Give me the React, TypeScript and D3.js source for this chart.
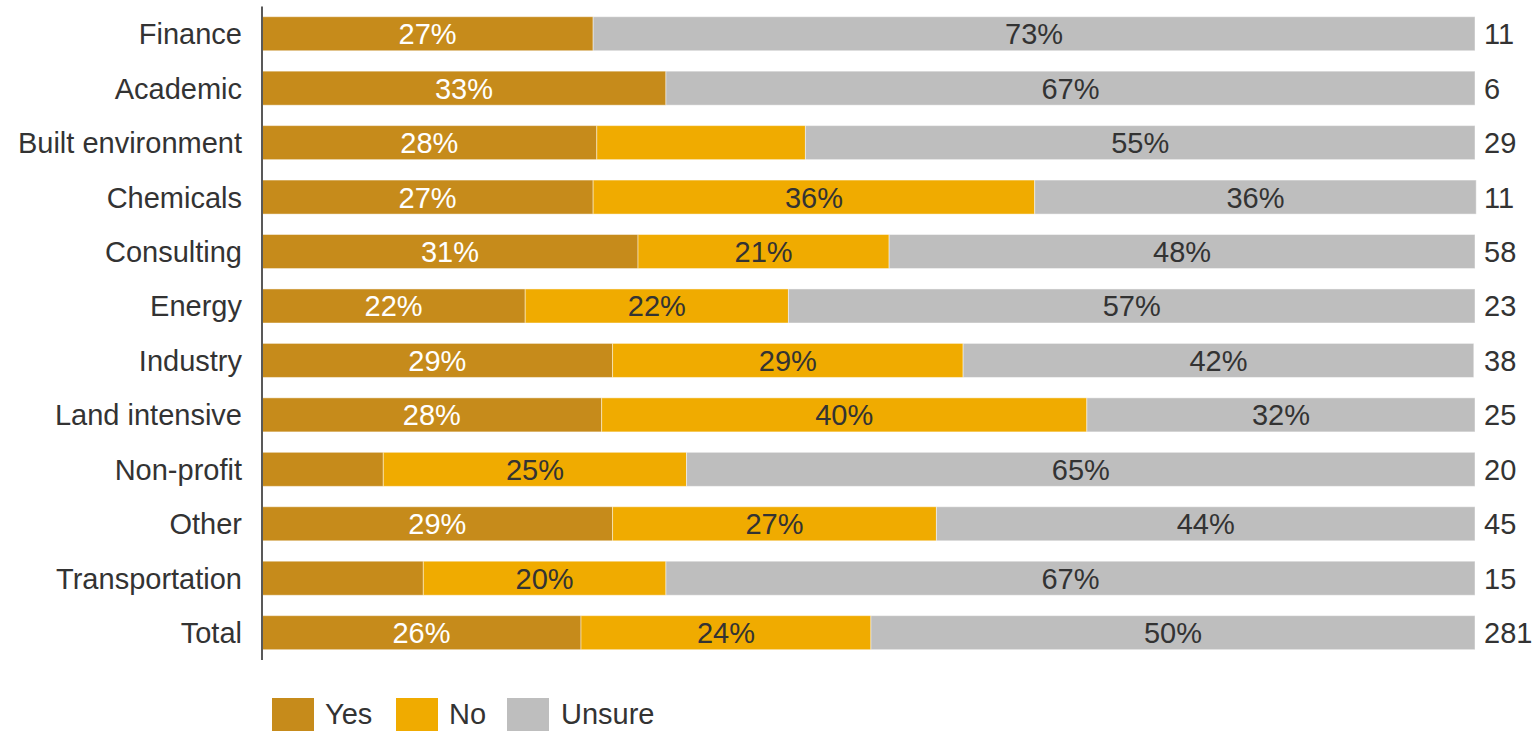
import React from "react";
import * as d3 from "d3";

const categories = ["Finance", "Academic", "Built environment", "Chemicals", "Consulting", "Energy", "Industry", "Land intensive", "Non-profit", "Other", "Transportation", "Total"];
const yesValues = [27.3, 33.3, 27.6, 27.3, 31.0, 21.7, 28.9, 28.0, 10.0, 28.9, 13.3, 26.3];
const noValues = [0, 0, 17.2, 36.4, 20.7, 21.7, 28.9, 40.0, 25.0, 26.7, 20.0, 23.9];
const unsureValues = [72.7, 66.7, 55.2, 36.4, 48.3, 56.6, 42.1, 32.0, 65.0, 44.4, 66.7, 49.8];
const counts = [11, 6, 29, 11, 58, 23, 38, 25, 20, 45, 15, 281];
const seriesNames = ["Yes", "No", "Unsure"];
const seriesColors = ["#C68B1B", "#F0AB00", "#BEBEBE"];
const labelColors = ["#FFFFFF", "#333333", "#333333"];

const W = 1532, H = 731;
const FONT = "'Liberation Sans', Arial, sans-serif";
const FS = 29;

export default function App() {
  const x = d3.scaleLinear().domain([0, 100]).range([262, 1475]);
  const y = d3.scaleBand<string>().domain(categories).range([6.5, 659.9]).paddingInner(0.375).paddingOuter(0.1875);
  const series = [yesValues, noValues, unsureValues];
  const rows = categories.map((c, i) => {
    let acc = 0;
    return series.map((s, k) => {
      const v = s[i];
      const seg = { k, x0: acc, x1: acc + v, v };
      acc += v;
      return seg;
    });
  });
  const bw = y.bandwidth();
  const legendItems = [
    { sx: 272, tx: 325 },
    { sx: 396, tx: 449 },
    { sx: 507, tx: 561 },
  ];
  return (
    <svg width={W} height={H} style={{ position: "absolute", left: 0, top: 0 }} fontFamily={FONT}>
      <rect width={W} height={H} fill="#fff" />
      {categories.map((c, i) => {
        const yy = y(c)!;
        return (
          <g key={c}>
            {rows[i].map((seg) =>
              seg.v > 0 ? (
                <rect key={seg.k} x={x(seg.x0)} y={yy} width={x(seg.x1) - x(seg.x0)} height={bw}
                  fill={seriesColors[seg.k]} stroke="rgba(255,255,255,0.45)" strokeWidth={1} />
              ) : null
            )}
            {rows[i].map((seg) =>
              seg.v >= 18 ? (
                <text key={"l" + seg.k} x={(x(seg.x0) + x(seg.x1)) / 2} y={yy + bw / 2} dy="0.36em"
                  textAnchor="middle" fontSize={FS} fill={labelColors[seg.k]}>
                  {Math.round(seg.v) + "%"}
                </text>
              ) : null
            )}
            <text x={242} y={yy + bw / 2} dy="0.36em" textAnchor="end" fontSize={FS} fill="#333">{c}</text>
            <text x={1484} y={yy + bw / 2} dy="0.36em" textAnchor="start" fontSize={FS} fill="#333">{counts[i]}</text>
          </g>
        );
      })}
      <line x1={262} x2={262} y1={6.5} y2={659.9} stroke="#595959" strokeWidth={2} />
      {seriesNames.map((n, k) => (
        <g key={n}>
          <rect x={legendItems[k].sx} y={698} width={42} height={40} fill={seriesColors[k]} />
          <text x={legendItems[k].tx} y={724} fontSize={FS} fill="#333">{n}</text>
        </g>
      ))}
    </svg>
  );
}
